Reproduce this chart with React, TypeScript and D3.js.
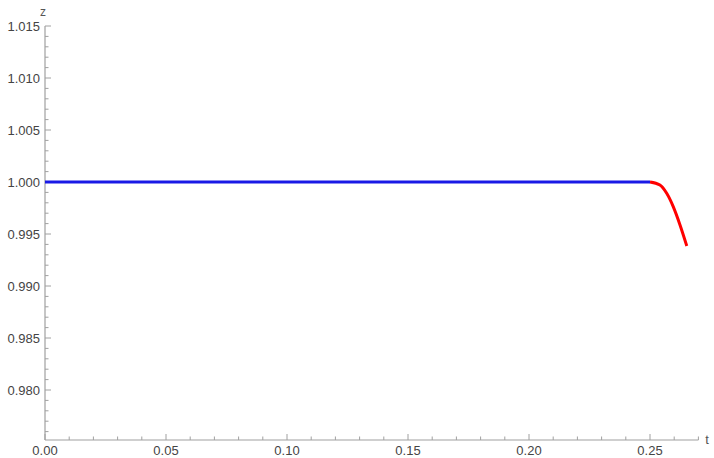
import React from "react";
import * as d3 from "d3";

const blueT = [0, 0.25];
const blueZ = [1.0, 1.0];
const redT = [0.25, 0.2541, 0.2569, 0.2596, 0.2624, 0.2652];
const redZ = [1.0, 0.99971, 0.99891, 0.99763, 0.99587, 0.99385];
const xTicks = [0, 0.05, 0.1, 0.15, 0.2, 0.25];
const yTicks = [0.98, 0.985, 0.99, 0.995, 1.0, 1.005, 1.01, 1.015];

const W = 714, H = 458;
const x0 = 45, xEndPx = 698.4, yAxisPx = 440, yTopPx = 26;
const x = d3.scaleLinear().domain([0, 0.27]).range([x0, xEndPx]);
const y = d3.scaleLinear().domain([0.98, 1.015]).range([390, yTopPx]);
const yBottomVal = y.invert(yAxisPx);

export default function App() {
  const line = d3.line<[number, number]>().x(d => x(d[0])).y(d => y(d[1])).curve(d3.curveMonotoneX);
  const blue = blueT.map((t, i) => [t, blueZ[i]] as [number, number]);
  const red = redT.map((t, i) => [t, redZ[i]] as [number, number]);
  const xMinor = d3.range(0, 0.2701, 0.01).map(v => +v.toFixed(3));
  const yMinor = d3.range(Math.ceil(yBottomVal * 1000) / 1000, 1.0151, 0.001).map(v => +v.toFixed(4));
  const axisColor = "#a0a0a0";
  const textColor = "#444";
  const font = "Liberation Sans, Arial, sans-serif";
  return (
    <svg width={W} height={H} style={{ position: "absolute", left: 0, top: 0, background: "#ffffff" }}>
      <rect width={W} height={H} fill="#ffffff" />
      <line x1={x0} x2={xEndPx} y1={yAxisPx} y2={yAxisPx} stroke={axisColor} strokeWidth={1.2} />
      {xMinor.map(v => {
        const major = xTicks.some(t => Math.abs(t - v) < 1e-6);
        return <line key={"xm" + v} x1={x(v)} x2={x(v)} y1={yAxisPx} y2={yAxisPx - (major ? 6 : 3.5)} stroke={axisColor} strokeWidth={1} />;
      })}
      {xTicks.map(v => (
        <text key={"xt" + v} x={x(v)} y={455} textAnchor="middle" fontFamily={font} fontSize={13} fill={textColor}>{v.toFixed(2)}</text>
      ))}
      <text x={707} y={444} textAnchor="middle" fontFamily={font} fontSize={13} fill="#555">t</text>
      <line x1={x0} x2={x0} y1={yAxisPx} y2={yTopPx} stroke={axisColor} strokeWidth={1.2} />
      {yMinor.map(v => {
        const major = yTicks.some(t => Math.abs(t - v) < 1e-6);
        return <line key={"ym" + v} x1={x0} x2={x0 + (major ? 6 : 3.5)} y1={y(v)} y2={y(v)} stroke={axisColor} strokeWidth={1} />;
      })}
      {yTicks.map(v => (
        <text key={"yt" + v} x={40} y={y(v) + 5} textAnchor="end" fontFamily={font} fontSize={13} fill={textColor}>{v.toFixed(3)}</text>
      ))}
      <text x={43} y={16} textAnchor="middle" fontFamily={font} fontSize={12} fill="#555">z</text>
      <path d={line(red) || ""} fill="none" stroke="#ff0000" strokeWidth={3} />
      <path d={line(blue) || ""} fill="none" stroke="#1a1ae6" strokeWidth={3.2} />
    </svg>
  );
}
